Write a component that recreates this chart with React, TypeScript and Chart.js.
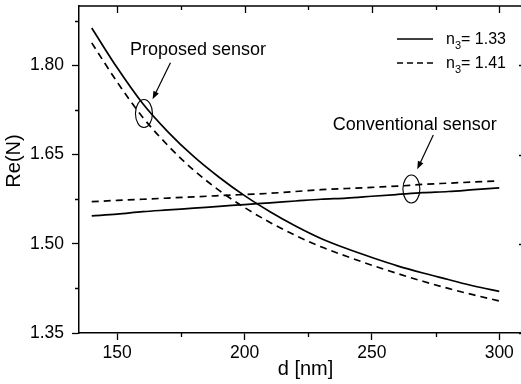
import React, { useEffect, useRef } from "react";
import { Chart, registerables } from "chart.js";

Chart.register(...registerables);

// ---- data ----
const thicknessNm = [140, 150, 160, 170, 180, 190, 200, 210, 220, 230, 240, 250, 260, 270, 280, 290, 300];
const proposedN133 = [1.863, 1.796, 1.736, 1.688, 1.647, 1.612, 1.581, 1.554, 1.530, 1.509, 1.492, 1.477, 1.463, 1.451, 1.440, 1.429, 1.420];
const proposedN141 = [1.838, 1.772, 1.713, 1.665, 1.624, 1.590, 1.561, 1.536, 1.514, 1.495, 1.479, 1.464, 1.450, 1.437, 1.425, 1.414, 1.404];
const conventionalN133 = [1.547, 1.550, 1.554, 1.557, 1.560, 1.563, 1.566, 1.569, 1.572, 1.575, 1.577, 1.580, 1.583, 1.586, 1.588, 1.591, 1.594];
const conventionalN141 = [1.571, 1.573, 1.575, 1.577, 1.579, 1.581, 1.583, 1.585, 1.588, 1.591, 1.593, 1.595, 1.597, 1.600, 1.602, 1.604, 1.606];

const xMajorTicks = [150, 200, 250, 300];
const xMinorTicks = [175, 225, 275];
const yMajorTicks = [1.35, 1.5, 1.65, 1.8];
const yMinorTicks = [1.425, 1.575, 1.725, 1.875];

const legendIndexLabels = ["1.33", "1.41"];
const xTitle = "d [nm]";
const yTitle = "Re(N)";

// annotations: label, text anchor, arrow start, arrow end, ellipse center (data coords)
const annotationLabels = ["Proposed sensor", "Conventional sensor"];
const annotationTextAt = [[155.0, 1.8176], [234.6, 1.6914]];
const annotationArrowFrom = [[170.9, 1.8046], [274.1, 1.683]];
const annotationArrowTo = [[163.9, 1.743], [267.8, 1.6253]];
const annotationEllipseAt = [[160.5, 1.7192], [265.5, 1.5922]];

const FONT = "'Liberation Sans', Arial, Helvetica, sans-serif";
const DASH = [7, 5];
const LEGEND_DASH = [6, 4];

const toPoints = (ys: number[]) => thicknessNm.map((x, i) => ({ x, y: ys[i] }));

const decorPlugin = {
  id: "decor",
  afterDraw(chart: any) {
    const { ctx, chartArea: a, scales } = chart;
    const xs = scales.x;
    const ys = scales.y;
    ctx.save();
    ctx.strokeStyle = "#000";
    ctx.fillStyle = "#000";
    ctx.lineWidth = 1.5;
    ctx.setLineDash([]);
    // top and right frame
    ctx.beginPath();
    ctx.moveTo(a.left - 0.75, a.top);
    ctx.lineTo(a.right, a.top);
    ctx.lineTo(a.right, a.bottom);
    ctx.stroke();
    // x ticks
    ctx.lineWidth = 1.3;
    ctx.beginPath();
    xMajorTicks.forEach((v) => {
      const px = Math.round(xs.getPixelForValue(v)) + 0.5;
      ctx.moveTo(px, a.top);
      ctx.lineTo(px, a.top + 7);
    });
    xMinorTicks.forEach((v) => {
      const px = Math.round(xs.getPixelForValue(v)) + 0.5;
      ctx.moveTo(px, a.top);
      ctx.lineTo(px, a.top + 4);
      ctx.moveTo(px, a.bottom);
      ctx.lineTo(px, a.bottom + 4);
    });
    yMajorTicks.forEach((v) => {
      const py = Math.round(ys.getPixelForValue(v)) + 0.5;
      ctx.moveTo(a.right, py);
      ctx.lineTo(a.right - 7, py);
    });
    yMinorTicks.forEach((v) => {
      const py = Math.round(ys.getPixelForValue(v)) + 0.5;
      ctx.moveTo(a.right, py);
      ctx.lineTo(a.right - 4, py);
      ctx.moveTo(a.left, py);
      ctx.lineTo(a.left - 4, py);
    });
    ctx.stroke();

    // axis titles
    ctx.font = `20px ${FONT}`;
    ctx.textAlign = "center";
    ctx.textBaseline = "alphabetic";
    ctx.fillText(xTitle, (a.left + a.right) / 2 + 3, 374.5);
    ctx.save();
    ctx.translate(20, 161);
    ctx.rotate(-Math.PI / 2);
    ctx.fillText(yTitle, 0, 0);
    ctx.restore();

    // legend
    const legendY = [39, 63];
    legendIndexLabels.forEach((lab, i) => {
      ctx.lineWidth = 1.6;
      ctx.setLineDash(i === 0 ? [] : LEGEND_DASH);
      ctx.beginPath();
      ctx.moveTo(397, legendY[i]);
      ctx.lineTo(433, legendY[i]);
      ctx.stroke();
      ctx.setLineDash([]);
      ctx.textAlign = "left";
      ctx.textBaseline = "alphabetic";
      let x = 446;
      const base = legendY[i] + 4.5;
      ctx.font = `16px ${FONT}`;
      ctx.fillText("n", x, base);
      x += ctx.measureText("n").width;
      ctx.font = `11px ${FONT}`;
      ctx.fillText("3", x, base + 5);
      x += ctx.measureText("3").width;
      ctx.font = `16px ${FONT}`;
      ctx.fillText("= " + lab, x, base);
    });

    // annotations
    annotationLabels.forEach((label, i) => {
      ctx.font = `18px ${FONT}`;
      ctx.textAlign = "left";
      ctx.textBaseline = "alphabetic";
      ctx.fillText(label, xs.getPixelForValue(annotationTextAt[i][0]), ys.getPixelForValue(annotationTextAt[i][1]));
      const x1 = xs.getPixelForValue(annotationArrowFrom[i][0]);
      const y1 = ys.getPixelForValue(annotationArrowFrom[i][1]);
      const x2 = xs.getPixelForValue(annotationArrowTo[i][0]);
      const y2 = ys.getPixelForValue(annotationArrowTo[i][1]);
      const ang = Math.atan2(y2 - y1, x2 - x1);
      const hl = 8;
      const hw = 3;
      ctx.lineWidth = 1.2;
      ctx.beginPath();
      ctx.moveTo(x1, y1);
      ctx.lineTo(x2 - Math.cos(ang) * hl * 0.8, y2 - Math.sin(ang) * hl * 0.8);
      ctx.stroke();
      ctx.beginPath();
      ctx.moveTo(x2, y2);
      ctx.lineTo(x2 - Math.cos(ang) * hl - Math.sin(ang) * hw, y2 - Math.sin(ang) * hl + Math.cos(ang) * hw);
      ctx.lineTo(x2 - Math.cos(ang) * hl + Math.sin(ang) * hw, y2 - Math.sin(ang) * hl - Math.cos(ang) * hw);
      ctx.closePath();
      ctx.fill();
      const cx = xs.getPixelForValue(annotationEllipseAt[i][0]);
      const cy = ys.getPixelForValue(annotationEllipseAt[i][1]);
      ctx.lineWidth = 1.1;
      ctx.beginPath();
      ctx.ellipse(cx, cy, 8.5, 14, 0, 0, Math.PI * 2);
      ctx.stroke();
    });
    ctx.restore();
  },
};

export default function App() {
  const canvasRef = useRef<HTMLCanvasElement | null>(null);

  useEffect(() => {
    document.body.style.margin = "0";
    document.body.style.overflow = "hidden";
    const canvas = canvasRef.current;
    if (!canvas) return;
    const line = (data: number[], dashed: boolean, label: string) => ({
      label,
      data: toPoints(data),
      borderColor: "#000",
      backgroundColor: "#000",
      borderWidth: 1.7,
      borderDash: dashed ? DASH : [],
      pointRadius: 0,
      fill: false,
      cubicInterpolationMode: "monotone" as const,
    });
    const chart = new Chart(canvas, {
      type: "line",
      data: {
        datasets: [
          line(proposedN133, false, "n3 = 1.33 proposed"),
          line(proposedN141, true, "n3 = 1.41 proposed"),
          line(conventionalN133, false, "n3 = 1.33 conventional"),
          line(conventionalN141, true, "n3 = 1.41 conventional"),
        ],
      },
      options: {
        animation: false,
        responsive: false,
        events: [],
        layout: { padding: { top: 6, left: 0, right: 0, bottom: 0 } },
        plugins: { legend: { display: false }, tooltip: { enabled: false } },
        scales: {
          x: {
            type: "linear",
            min: 135,
            max: 310.5,
            afterFit: (s: any) => {
              s.height = 51;
              s.paddingLeft = 0;
              s.paddingRight = 0;
            },
            afterBuildTicks: (s: any) => {
              s.ticks = xMajorTicks.map((v) => ({ value: v }));
            },
            grid: { display: true, drawOnChartArea: false, drawTicks: true, tickLength: 7, tickWidth: 1.3, tickColor: "#000" },
            border: { display: true, color: "#000", width: 1.5 },
            ticks: {
              autoSkip: false,
              maxRotation: 0,
              padding: 3,
              color: "#000",
              font: { family: FONT, size: 17.5 },
              callback: (v: any) => String(v),
            },
          },
          y: {
            type: "linear",
            min: 1.35,
            max: 1.9,
            afterFit: (s: any) => {
              s.width = 79;
              s.paddingTop = 0;
              s.paddingBottom = 0;
            },
            afterBuildTicks: (s: any) => {
              s.ticks = yMajorTicks.map((v) => ({ value: v }));
            },
            grid: { display: true, drawOnChartArea: false, drawTicks: true, tickLength: 7, tickWidth: 1.3, tickColor: "#000" },
            border: { display: true, color: "#000", width: 1.5 },
            ticks: {
              padding: 8,
              color: "#000",
              font: { family: FONT, size: 17.5 },
              callback: (v: any) => Number(v).toFixed(2),
            },
          },
        },
      },
      plugins: [decorPlugin],
    });
    return () => chart.destroy();
  }, []);

  return (
    <div style={{ position: "fixed", left: 0, top: 0, width: 526, height: 384, background: "#fff" }}>
      <canvas ref={canvasRef} width={526} height={384} style={{ display: "block" }} />
    </div>
  );
}
